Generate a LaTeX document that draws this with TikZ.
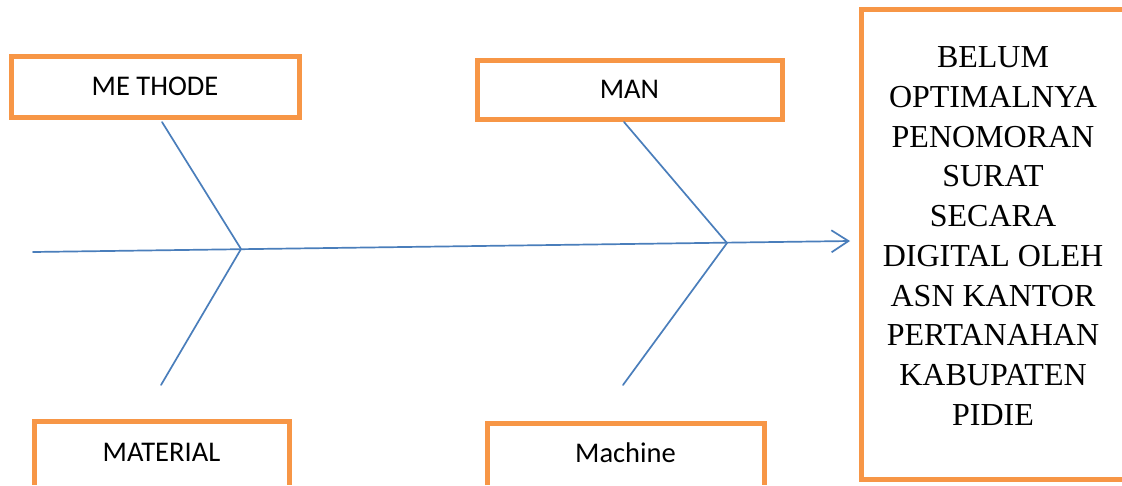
\documentclass[tikz,border=0pt]{standalone}
\usepackage{fontspec}
\setmainfont{Carlito}
\newfontfamily\tnr{Liberation Serif}
\usetikzlibrary{arrows.meta}
\definecolor{boxorange}{HTML}{F79646}
\definecolor{boneblue}{HTML}{4A7EBB}
\begin{document}
\begin{tikzpicture}[x=1pt,y=-1pt,
  cause/.style={draw=boxorange,line width=5pt,rectangle,inner sep=0pt,
    font=\fontsize{28.5}{32}\selectfont},
  causetext/.style={inner sep=0pt,font=\fontsize{28.5}{32}\selectfont},
  openbox/.style={draw=boxorange,line width=5pt,line join=miter,line cap=butt},
  bone/.style={draw=boneblue,line width=1.7pt,line cap=round,line join=round}]
\useasboundingbox (0,0) rectangle (1122,485);
\fill[white] (0,0) rectangle (1122,485);
% cause boxes (top)
\node[cause,minimum width=288pt,minimum height=61pt] (methode) at (155,86.5) {ME THODE};
\node[cause,minimum width=305pt,minimum height=59pt] (man) at (629.5,89.5) {MAN};
% cause boxes (bottom, cut by the page edge)
\draw[openbox] (34,485) -- (34,421) -- (289,421) -- (289,485);
\node[causetext] (material) at (161.5,452) {MATERIAL};
\draw[openbox] (487,485) -- (487,423) -- (764,423) -- (764,485);
\node[causetext] (machine) at (625.5,453) {Machine};
% effect box (cut by the page edge)
\draw[openbox] (1122,9) -- (861,9) -- (861,479) -- (1122,479);
\node[font=\tnr\fontsize{32}{39.7}\selectfont,align=center,inner sep=0pt] (effect) at (993,236)
  {BELUM\\OPTIMALNYA\\PENOMORAN\\SURAT\\SECARA\\DIGITAL OLEH\\ASN KANTOR\\PERTANAHAN\\KABUPATEN\\PIDIE};
% spine
\coordinate (tail) at (33,252);
\coordinate (j1) at (241,249);
\coordinate (j2) at (727,243);
\coordinate (head) at (850,241);
\draw[bone,-{Straight Barb[length=17pt,width=22pt,line width=1.7pt]}] (tail) -- (head);
% bones
\coordinate (m1) at (162,122);
\coordinate (m2) at (161,385);
\coordinate (n1) at (624,122);
\coordinate (n2) at (623,385);
\draw[bone] (m1) -- (j1) -- (m2);
\draw[bone] (n1) -- (j2) -- (n2);
\end{tikzpicture}
\end{document}
